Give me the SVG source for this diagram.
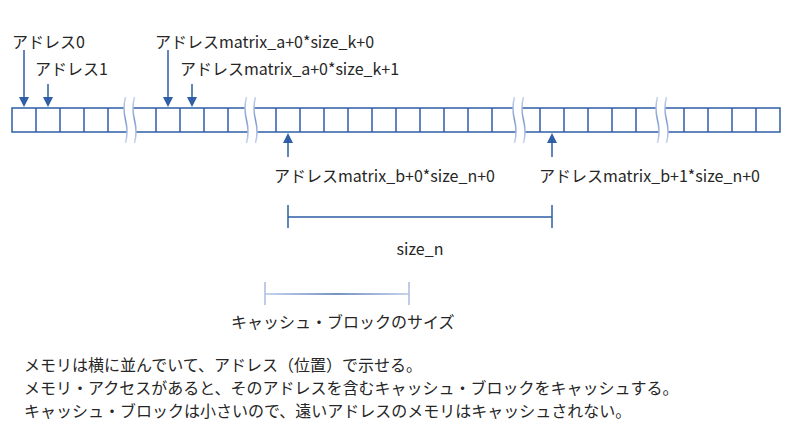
<svg xmlns="http://www.w3.org/2000/svg" width="792" height="444" viewBox="0 0 792 444">
<defs>
<style>
text{font-family:"Noto Sans CJK JP","Noto Sans",sans-serif;font-size:16px;fill:#262626}
.cell{fill:none;stroke:#2F5FA5;stroke-width:1.5}
.arr{stroke:#2F5FA5;stroke-width:1.5;fill:none}
.head{fill:#2F5FA5}
.brk{fill:#fff;stroke:none}
.brkl{fill:none;stroke:url(#bg);stroke-width:1.5}
</style>
<linearGradient id="bg" gradientUnits="userSpaceOnUse" x1="0" y1="97" x2="0" y2="143">
<stop offset="0" stop-color="#c5d4ee"/>
<stop offset="0.5" stop-color="#7d9bd0"/>
<stop offset="1" stop-color="#c5d4ee"/>
</linearGradient>
<linearGradient id="cg" gradientUnits="userSpaceOnUse" x1="265" y1="0" x2="409" y2="0">
<stop offset="0" stop-color="#b4c7e7"/>
<stop offset="0.5" stop-color="#4a6fae"/>
<stop offset="1" stop-color="#b4c7e7"/>
</linearGradient>
<path id="bk" d="M-4.5,97 Q-7.5,108 -4.5,120 Q-1.5,132 -4.5,143 L4.5,143 Q7.5,132 4.5,120 Q1.5,108 4.5,97 Z"/>
</defs>

<g id="memory">
<rect class="cell" x="12" y="108" width="768" height="24"/>
<path class="cell" d="M36,108V132M60,108V132M84,108V132M108,108V132M132,108V132M156,108V132M180,108V132M204,108V132M228,108V132M252,108V132M276,108V132M300,108V132M324,108V132M348,108V132M372,108V132M396,108V132M420,108V132M444,108V132M468,108V132M492,108V132M516,108V132M540,108V132M564,108V132M588,108V132M612,108V132M636,108V132M660,108V132M684,108V132M708,108V132M732,108V132M756,108V132"/>
</g>

<g id="breaks">
<g transform="translate(130,0)"><use href="#bk" class="brk"/><path class="brkl" d="M-4.5,97 Q-7.5,108 -4.5,120 Q-1.5,132 -4.5,143 M4.5,97 Q1.5,108 4.5,120 Q7.5,132 4.5,143"/></g>
<g transform="translate(251,0)"><use href="#bk" class="brk"/><path class="brkl" d="M-4.5,97 Q-7.5,108 -4.5,120 Q-1.5,132 -4.5,143 M4.5,97 Q1.5,108 4.5,120 Q7.5,132 4.5,143"/></g>
<g transform="translate(519,0)"><use href="#bk" class="brk"/><path class="brkl" d="M-4.5,97 Q-7.5,108 -4.5,120 Q-1.5,132 -4.5,143 M4.5,97 Q1.5,108 4.5,120 Q7.5,132 4.5,143"/></g>
<g transform="translate(662,0)"><use href="#bk" class="brk"/><path class="brkl" d="M-4.5,97 Q-7.5,108 -4.5,120 Q-1.5,132 -4.5,143 M4.5,97 Q1.5,108 4.5,120 Q7.5,132 4.5,143"/></g>
</g>

<g id="connectors">
<path class="arr" d="M24,50V98M48,84V98M168,50V98M192,84V98M288,142V157M552,142V157"/>
<path class="head" d="M19,97H29L24,107ZM43,97H53L48,107ZM163,97H173L168,107ZM187,97H197L192,107ZM283,143H293L288,133ZM547,143H557L552,133Z"/>
</g>

<g id="label-addr0"><text x="12" y="48">アドレス0</text></g>
<g id="label-addr1"><text x="35" y="75">アドレス1</text></g>
<g id="label-a0"><text x="155" y="48">アドレスmatrix_a+0*size_k+0</text></g>
<g id="label-a1"><text x="180" y="75">アドレスmatrix_a+0*size_k+1</text></g>
<g id="label-b0"><text x="274" y="182">アドレスmatrix_b+0*size_n+0</text></g>
<g id="label-b1"><text x="539" y="182">アドレスmatrix_b+1*size_n+0</text></g>

<g id="dim-size_n">
<path d="M288,217H552M288,205V228M552,205V228" stroke="#2F5FA5" stroke-width="1.5" fill="none"/>
<text x="420" y="255" text-anchor="middle">size_n</text>
</g>

<g id="dim-cacheblock">
<path d="M265,294H409" stroke="url(#cg)" stroke-width="1.5" fill="none"/>
<path d="M265,282V305M409,282V305" stroke="#a9bde0" stroke-width="1.5" fill="none"/>
<text x="231" y="328">キャッシュ・ブロックのサイズ</text>
</g>

<g id="notes">
<text x="24" y="371">メモリは横に並んでいて、アドレス（位置）で示せる。</text>
<text x="24" y="394">メモリ・アクセスがあると、そのアドレスを含むキャッシュ・ブロックをキャッシュする。</text>
<text x="24" y="417">キャッシュ・ブロックは小さいので、遠いアドレスのメモリはキャッシュされない。</text>
</g>
</svg>
